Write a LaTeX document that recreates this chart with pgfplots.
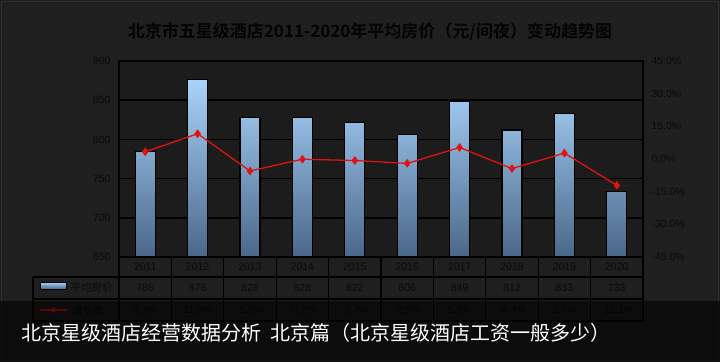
\documentclass[border=0pt]{standalone}
\usepackage{fontspec}
\setmainfont{Liberation Sans}
\newfontfamily\cjk{Noto Sans CJK SC}
\newfontfamily\cjkb{Noto Sans CJK SC Bold}
\usepackage{pgfplots}
\pgfplotsset{compat=1.18}
\usepackage{pgfplotstable}
\definecolor{bg}{HTML}{1F1F1F}
\definecolor{plotbg}{HTML}{1C1C1C}
\definecolor{textc}{HTML}{0A0A0A}
\definecolor{titlec}{HTML}{030303}
\definecolor{redc}{HTML}{E01212}
\definecolor{barTop}{HTML}{A9D3FA}
\definecolor{barBot}{HTML}{4A678A}
\definecolor{framec}{HTML}{2E2E2E}

\pgfplotstableread{
x year price growth glabel
0 2011 785 3.3 3.3\%
1 2012 876 11.6 11.6\%
2 2013 828 -5.5 -5.5\%
3 2014 828 -0.1 -0.1\%
4 2015 822 -0.7 -0.7\%
5 2016 806 -2.0 -2.0\%
6 2017 849 5.3 5.3\%
7 2018 812 -4.4 -4.4\%
8 2019 833 2.7 2.7\%
9 2020 733 -12.1 -12.1\%
}\datatable

\begin{document}
\begin{tikzpicture}
\fill[bg] (0pt,0pt) rectangle (720pt,362pt);
\draw[framec, line width=1.2pt] (1.5pt,1.5pt) rectangle (718.5pt,360.5pt);
\node[font=\cjkb\fontsize{17}{20}\selectfont, text=titlec] at (370pt,330pt) {北京市五星级酒店2011-2020年平均房价（元/间夜）变动趋势图};

\begin{axis}[
  at={(119pt,105pt)}, anchor=south west,
  scale only axis, width=524pt, height=196pt,
  xmin=-0.5, xmax=9.5, ymin=0, ymax=250,
  xtick=\empty,
  ytick={0,50,...,250},
  yticklabel={\pgfmathparse{int(round(\tick+650))}\pgfmathresult},
  yticklabel style={font=\fontsize{10.5}{12}\selectfont, text=textc, xshift=-5pt},
  major tick length=0pt,
  ymajorgrids, grid style={black, line width=1.6pt},
  axis line style={black, line width=1.2pt},
  axis background/.style={fill=plotbg},
  clip=true,
]
\addplot[ybar, bar width=20pt, bar shift=0pt, draw=black, line width=1.1pt,
  top color=barTop, bottom color=barBot, y filter/.expression={y-650}]
  table[x=x, y=price] {\datatable};
\end{axis}

\begin{axis}[
  at={(119pt,105pt)}, anchor=south west,
  scale only axis, width=524pt, height=196pt,
  xmin=-0.5, xmax=9.5, ymin=-45, ymax=45,
  axis x line=none, axis y line*=right,
  ytick={-45,-30,...,45},
  yticklabel={\pgfmathprintnumber[fixed,fixed zerofill,precision=1,assume math mode=true]{\tick}\%},
  yticklabel style={font=\fontsize{10.5}{12}\selectfont, text=textc, xshift=5pt},
  major tick length=0pt,
  axis line style={black, line width=1.2pt},
]
\addplot[redc, line width=1.3pt, mark=diamond*, mark size=3.3pt, mark options={fill=redc, draw=redc}]
  table[x=x, y=growth] {\datatable};
\end{axis}

% data table
\foreach \k in {0,...,10} {
  \draw[black, line width=1.1pt] ({119pt+52.4pt*\k},105pt) -- ({119pt+52.4pt*\k},40pt);
}
\draw[black, line width=1.1pt] (33pt,85pt) -- (643pt,85pt);
\draw[black, line width=1.1pt] (33pt,63pt) -- (643pt,63pt);
\draw[black, line width=1.1pt] (33pt,41pt) -- (643pt,41pt);
\draw[black, line width=1.1pt] (33pt,85pt) -- (33pt,41pt);

\pgfplotstablegetrowsof{\datatable}
\pgfmathtruncatemacro{\nrows}{\pgfplotsretval-1}
\foreach \r in {0,...,\nrows} {
  \pgfplotstablegetelem{\r}{year}\of{\datatable}\let\yr\pgfplotsretval
  \pgfplotstablegetelem{\r}{price}\of{\datatable}\let\pr\pgfplotsretval
  \pgfplotstablegetelem{\r}{glabel}\of{\datatable}\let\gl\pgfplotsretval
  \node[font=\fontsize{10.5}{12}\selectfont, text=textc] at ({119pt+52.4pt*(\r+0.5)},95pt) {\yr};
  \node[font=\fontsize{10.5}{12}\selectfont, text=textc] at ({119pt+52.4pt*(\r+0.5)},74pt) {\pr};
  \node[font=\fontsize{10.5}{12}\selectfont, text=textc] at ({119pt+52.4pt*(\r+0.5)},52pt) {\gl};
}
% legend cells
\shade[top color=barTop, bottom color=barBot] (40pt,73pt) rectangle (66pt,80pt);
\draw[black, line width=0.9pt] (40pt,73pt) rectangle (66pt,80pt);
\node[font=\cjk\fontsize{10.5}{12}\selectfont, text=textc, anchor=west] at (67pt,74pt) {平均房价};
\draw[redc, line width=1.2pt] (40pt,52pt) -- (67pt,52pt);
\fill[redc] (53.5pt,55pt) -- (56.5pt,52pt) -- (53.5pt,49pt) -- (50.5pt,52pt) -- cycle;
\node[font=\cjk\fontsize{10.5}{12}\selectfont, text=textc, anchor=west] at (69pt,52pt) {增长率};

% caption band
\fill[black, opacity=0.6] (0pt,0pt) rectangle (720pt,61pt);
\node[font=\cjk\fontsize{20}{23}\selectfont, text=white, anchor=west, inner sep=0pt] at (21pt,29pt) {北京星级酒店经营数据分析\hspace{9pt}北京篇（北京星级酒店工资一般多少）};
\end{tikzpicture}
\end{document}
